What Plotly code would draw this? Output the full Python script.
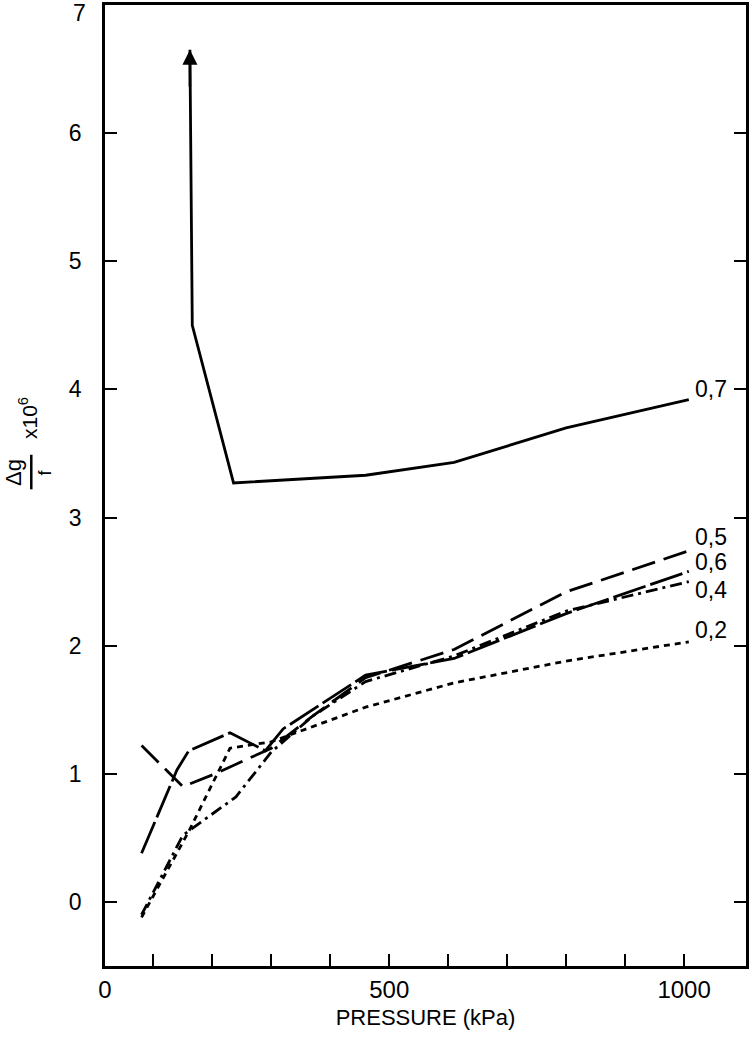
import plotly.graph_objects as go

# ---- data (pressure in kPa, value = Δg/f x 10^6) ----
p07 = [162, 166, 236, 460, 610, 800, 1008]
v07 = [6.65, 4.5, 3.27, 3.33, 3.43, 3.70, 3.92]

p05 = [80, 150, 205, 300, 370, 460, 610, 800, 1008]
v05 = [1.22, 0.90, 1.00, 1.20, 1.45, 1.75, 1.97, 2.42, 2.74]

p06 = [80, 140, 160, 230, 290, 320, 460, 610, 800, 1008]
v06 = [0.38, 1.03, 1.18, 1.32, 1.18, 1.35, 1.77, 1.90, 2.25, 2.58]

p04 = [80, 150, 240, 300, 370, 460, 610, 800, 1008]
v04 = [-0.10, 0.52, 0.82, 1.17, 1.45, 1.72, 1.92, 2.27, 2.50]

p02 = [80, 160, 230, 300, 460, 610, 800, 1008]
v02 = [-0.12, 0.55, 1.20, 1.25, 1.52, 1.71, 1.88, 2.03]

labels = ["0,7", "0,5", "0,6", "0,4", "0,2"]
label_yshift = [11, 14, 9, -8, 12]

x_tickvals = [18, 100, 200, 300, 400, 500, 600, 700, 800, 900, 1000]
x_ticktext = ["0", "", "", "", "", "500", "", "", "", "", "1000"]
y_tickvals = [0, 1, 2, 3, 4, 5, 6]

FONT = "Liberation Sans, Arial, sans-serif"

series = [
    (p07, v07, "solid"),
    (p05, v05, "24px,9px"),
    (p06, v06, "34px,5px"),
    (p04, v04, "12px,5px,3px,5px"),
    (p02, v02, "6px,5px"),
]

fig = go.Figure()
for (px, py, dash), lab in zip(series, labels):
    fig.add_trace(go.Scatter(x=px, y=py, mode="lines", name=lab,
                             line=dict(color="black", width=2.8, dash=dash),
                             showlegend=False, hoverinfo="skip"))

# arrow head at top of 0,7 curve
fig.add_annotation(x=p07[0], y=v07[0], ax=p07[0], ay=v07[0] - 0.3,
                   xref="x", yref="y", axref="x", ayref="y", text="",
                   showarrow=True, arrowhead=2, arrowsize=1.2, arrowwidth=2.5,
                   arrowcolor="black")

# curve labels at right end
for (px, py, dash), lab, ys in zip(series, labels, label_yshift):
    fig.add_annotation(x=px[-1], y=py[-1], text=lab, showarrow=False,
                       xanchor="left", yanchor="middle", xshift=4, yshift=ys,
                       font=dict(family=FONT, size=23, color="black"))

# "7" tick label (top aligned)
fig.add_annotation(x=0, y=7, xref="paper", yref="y", text="7", showarrow=False,
                   xanchor="right", yanchor="top", xshift=-17, yshift=7,
                   font=dict(family=FONT, size=23, color="black"))

# y axis title: Δg / f  x10^6 (rotated)
fig.add_annotation(x=-0.143, y=3.35, xref="paper", yref="y", text="Δg",
                   textangle=-90, showarrow=False,
                   xanchor="center", yanchor="middle",
                   font=dict(family=FONT, size=22, color="black"))
fig.add_annotation(x=-0.094, y=3.35, xref="paper", yref="y", text="f",
                   textangle=-90, showarrow=False,
                   xanchor="center", yanchor="middle",
                   font=dict(family=FONT, size=18, color="black"))
fig.add_shape(type="line", xref="paper", yref="y", x0=-0.115, x1=-0.115,
              y0=3.22, y1=3.49, line=dict(color="black", width=2.5))
fig.add_annotation(x=-0.121, y=3.78, xref="paper", yref="y",
                   text="x10<sup>6</sup>", textangle=-90, showarrow=False,
                   xanchor="center", yanchor="middle",
                   font=dict(family=FONT, size=21, color="black"))

fig.update_xaxes(range=[18, 1105], tickvals=x_tickvals, ticktext=x_ticktext,
                 ticks="inside", ticklen=12, tickwidth=2, tickcolor="black",
                 showline=True, linecolor="black", linewidth=2.8, mirror=True,
                 showgrid=False, zeroline=False, ticklabelstandoff=0,
                 tickfont=dict(family=FONT, size=24, color="black"),
                 title=dict(text="PRESSURE (kPa)", standoff=8,
                            font=dict(family=FONT, size=22, color="black")))
fig.update_yaxes(range=[-0.5, 7.0], tickvals=y_tickvals,
                 ticks="inside", ticklen=12, tickwidth=2, tickcolor="black",
                 showline=True, linecolor="black", linewidth=2.8, mirror="ticks",
                 showgrid=False, zeroline=False, ticklabelstandoff=16,
                 tickfont=dict(family=FONT, size=23, color="black"))

fig.update_layout(width=751, height=1041,
                  margin=dict(l=105, r=3, t=2, b=75),
                  paper_bgcolor="white", plot_bgcolor="white")

fig.write_html("out.html", config={"displayModeBar": False},
               post_script="document.body.style.margin='0';"
                           "document.body.style.overflow='hidden';")
